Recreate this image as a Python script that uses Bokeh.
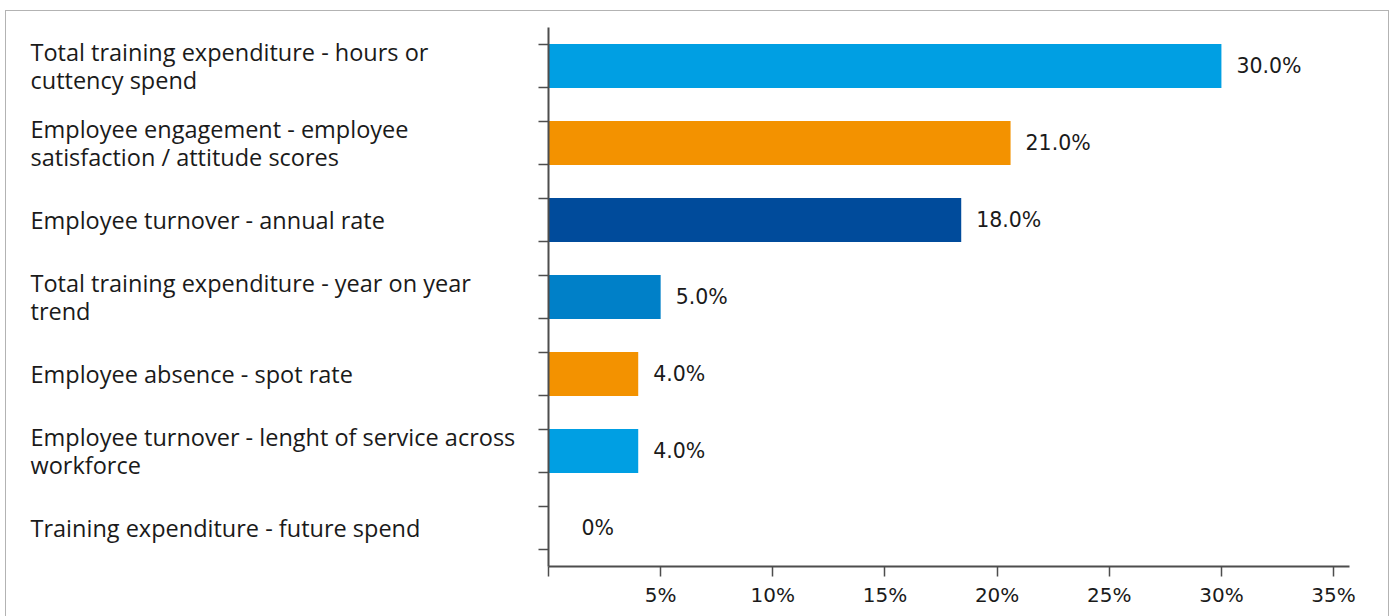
from bokeh.plotting import figure
from bokeh.layouts import row
from bokeh.models import ColumnDataSource, Range1d, FixedTicker, CustomJSTickFormatter
from bokeh.embed import file_html
from bokeh.resources import INLINE
from bokeh.core.properties import value
import numpy as np

# ---- data ----
categories = [
    "Total training expenditure - hours or\ncuttency spend",
    "Employee engagement - employee\nsatisfaction / attitude scores",
    "Employee turnover - annual rate",
    "Total training expenditure - year on year\ntrend",
    "Employee absence - spot rate",
    "Employee turnover - lenght of service across\nworkforce",
    "Training expenditure - future spend",
]
values = [30.0, 20.6, 18.4, 5.0, 4.0, 4.0, 0.0]
value_labels = ["30.0%", "21.0%", "18.0%", "5.0%", "4.0%", "4.0%", "0%"]
bar_colors = ["#009FE3", "#F39200", "#004B9B", "#0080C8", "#F39200", "#009FE3", "#009FE3"]
x_ticks = [0, 5, 10, 15, 20, 25, 30, 35]
x_tick_labels = ["", "5%", "10%", "15%", "20%", "25%", "30%", "35%"]

n = len(categories)
pos = list(range(n))
bar_h = 0.571
y_tick_pos = sorted([p - bar_h / 2 for p in pos] + [p + bar_h / 2 for p in pos])

H = 605
TOP = 16
BOTTOM = H - TOP - 539
LEFT_W = 522

y_range = Range1d(n - 0.5, -0.5)

# ---- left label panel ----
pl = figure(width=LEFT_W, height=H, x_range=Range1d(0, LEFT_W), y_range=y_range,
            output_backend="svg", toolbar_location=None,
            min_border_left=0, min_border_right=0,
            min_border_top=TOP, min_border_bottom=BOTTOM)
pl.axis.visible = False
pl.grid.visible = False
pl.outline_line_color = None
lab_src = ColumnDataSource(dict(y=pos, text=categories, x=[24] * n))
pl.text(x="x", y="y", text="text", source=lab_src,
        text_font=value("Open Sans"), text_font_size="23.5px", text_color="#1a1a1a",
        text_align="left", text_baseline="middle", text_line_height=0.9)

# ---- main chart ----
MAIN_W = 20 + 801 + 39
p = figure(width=MAIN_W, height=H, x_range=Range1d(0, 35.71), y_range=y_range,
           output_backend="svg", toolbar_location=None,
           min_border_left=20, min_border_right=39,
           min_border_top=TOP, min_border_bottom=BOTTOM)
p.outline_line_color = None
p.grid.visible = False

src = ColumnDataSource(dict(y=pos, right=values, color=bar_colors,
                            label=value_labels,
                            lx=list(np.maximum(np.array(values), 0.8))))
p.hbar(y="y", left=0, right="right", height=bar_h, fill_color="color",
       line_color=None, source=src)
p.text(x="lx", y="y", text="label", source=src, x_offset=15,
       text_font=value("DejaVu Sans"), text_font_size="20.5px", text_color="#1a1a1a",
       text_align="left", text_baseline="middle")

xa = p.xaxis[0]
xa.ticker = FixedTicker(ticks=x_ticks)
xa.major_label_overrides = {t: l for t, l in zip(x_ticks, x_tick_labels)}
xa.minor_tick_line_color = None
xa.major_tick_in = 0
xa.major_tick_out = 10
xa.axis_line_color = "#4d4d4d"
xa.axis_line_width = 2
xa.major_tick_line_color = "#4d4d4d"
xa.major_tick_line_width = 1.5
xa.major_label_text_font = "DejaVu Sans"
xa.major_label_text_font_size = "20px"
xa.major_label_text_color = "#1a1a1a"
xa.major_label_standoff = 6

ya = p.yaxis[0]
ya.ticker = FixedTicker(ticks=y_tick_pos)
ya.formatter = CustomJSTickFormatter(code="return ''")
ya.minor_tick_line_color = None
ya.major_tick_in = 0
ya.major_tick_out = 10
ya.axis_line_color = "#4d4d4d"
ya.axis_line_width = 2
ya.major_tick_line_color = "#4d4d4d"
ya.major_tick_line_width = 1.5
ya.major_label_standoff = 0

layout = row(pl, p, styles={"border": "1px solid #b3b3b3", "margin-left": "5px",
                            "margin-top": "10px"})

open("out.html", "w").write(file_html(layout, INLINE))
